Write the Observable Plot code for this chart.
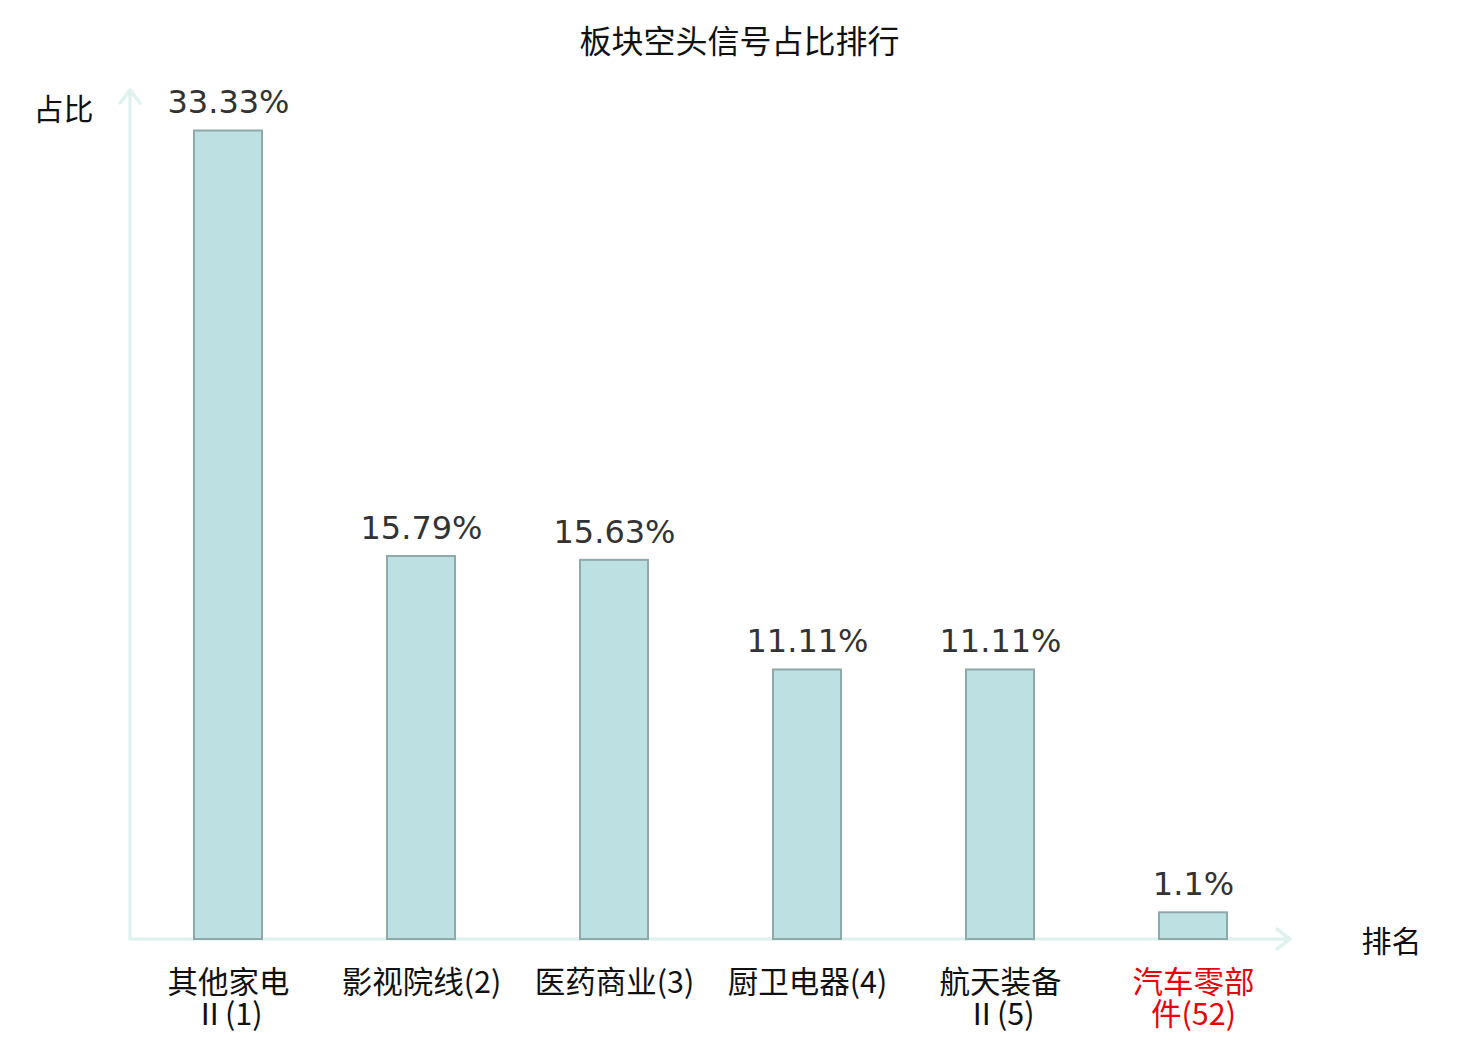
<!DOCTYPE html>
<html>
<head>
<meta charset="utf-8">
<script src="https://cdn.jsdelivr.net/npm/d3@7"></script>
<script src="https://cdn.jsdelivr.net/npm/@observablehq/plot@0.6"></script>
<style>
  html, body { margin: 0; padding: 0; background: #fff; }
  #chart svg { display: block; }
</style>
</head>
<body>
<div id="chart"></div>
<script>
const title = "板块空头信号占比排行";
const yLabel = "占比";
const xLabel = "排名";
const categories = ["其他家电Ⅱ(1)", "影视院线(2)", "医药商业(3)", "厨卫电器(4)", "航天装备Ⅱ(5)", "汽车零部件(52)"];
const tickLabels = ["其他家电\nⅡ(1)", "影视院线(2)", "医药商业(3)", "厨卫电器(4)", "航天装备\nⅡ(5)", "汽车零部\n件(52)"];
const shares = [33.33, 15.79, 15.63, 11.11, 11.11, 1.1];
const valueLabels = ["33.33%", "15.79%", "15.63%", "11.11%", "11.11%", "1.1%"];
const highlighted = [false, false, false, false, false, true];

const data = categories.map((c, i) => ({
  category: c,
  tick: tickLabels[i],
  share: shares[i],
  label: valueLabels[i],
  color: highlighted[i] ? "#e8000b" : "#111111"
}));

const cjk = "'Noto Sans CJK SC', 'DejaVu Sans', sans-serif";
const axisColor = "#dff2ef";

const chart = Plot.plot({
  width: 1480,
  height: 1040,
  marginLeft: 130,
  marginRight: 190,
  marginTop: 90,
  marginBottom: 101,
  style: { background: "#fff", fontFamily: cjk },
  x: { domain: categories, paddingInner: 0.65, paddingOuter: 0.325, axis: null },
  y: { domain: [0, 35], axis: null },
  marks: [
    Plot.barY(data, {
      x: "category", y: "share",
      fill: "#bde0e3", stroke: "#8ea9aa", strokeWidth: 2
    }),
    Plot.text(data, {
      x: "category", y: "share", text: "label",
      dy: -28, fontSize: 32, fill: "#333333",
      fontFamily: "'DejaVu Sans', sans-serif"
    }),
    Plot.text(data, {
      x: "category", y: () => 0, text: "tick",
      lineAnchor: "top", dy: 31, lineHeight: 1.05,
      fontSize: 30.5, fill: "color", fontFamily: cjk
    }),
    Plot.text([title], {
      text: d => d, frameAnchor: "top", textAnchor: "middle", lineAnchor: "middle",
      dx: 29, dy: -48,
      fontSize: 32, fill: "#111", fontFamily: cjk
    }),
    Plot.text([yLabel], {
      text: d => d, frameAnchor: "top-left", textAnchor: "middle", lineAnchor: "middle",
      dx: -67, dy: 20,
      fontSize: 30, fill: "#111", fontFamily: cjk
    }),
    Plot.text([xLabel], {
      text: d => d, frameAnchor: "bottom-right", textAnchor: "middle", lineAnchor: "middle",
      dx: 101, dy: 3,
      fontSize: 30, fill: "#111", fontFamily: cjk
    })
  ]
});

document.getElementById("chart").append(chart);

// axis lines with arrows, positioned from the chart's own scales
const xr = chart.scale("x").range;
const yr = chart.scale("y").range;
const x0 = xr[0], x1 = xr[1], y0 = yr[0], y1 = yr[1];
const svg = d3.select(chart);
const g = svg.insert("g", ":first-child")
  .attr("fill", "none")
  .attr("stroke", axisColor)
  .attr("stroke-width", 3.5)
  .attr("stroke-linecap", "round")
  .attr("stroke-linejoin", "round");
g.append("line").attr("x1", x0).attr("y1", y0).attr("x2", x0).attr("y2", y1);
g.append("line").attr("x1", x0).attr("y1", y0).attr("x2", x1).attr("y2", y0);
g.append("path").attr("d", `M${x0 - 10},${y1 + 13}L${x0},${y1}L${x0 + 10},${y1 + 13}`);
g.append("path").attr("d", `M${x1 - 13},${y0 - 10}L${x1},${y0}L${x1 - 13},${y0 + 10}`);
svg.select("rect[fill='#fff']").lower();
</script>
</body>
</html>
